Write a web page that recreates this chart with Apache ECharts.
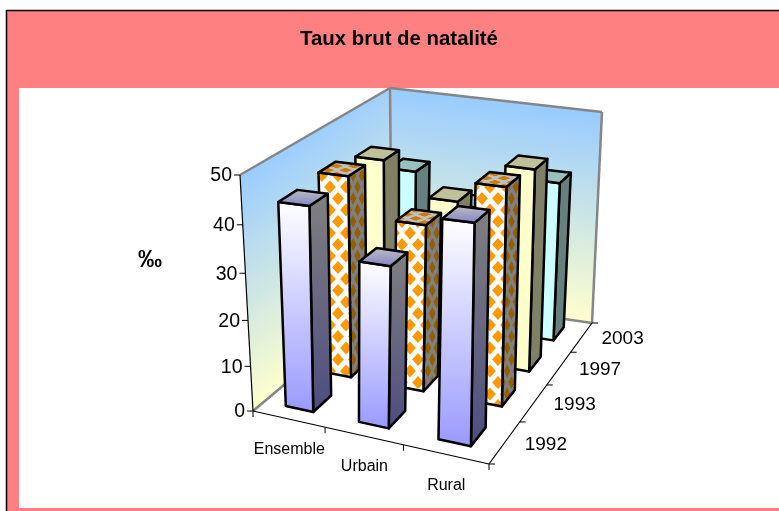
<!DOCTYPE html>
<html><head><meta charset="utf-8">
<style>html,body{margin:0;padding:0;background:#fff}#c{width:779px;height:511px}</style>
<script src="https://cdn.jsdelivr.net/npm/echarts@6/dist/echarts.min.js"></script>
</head><body><div id="c"></div>
<script>
const categories = ['Ensemble','Urbain','Rural'];
const years = ['1992','1993','1997','2003'];
const values1992 = [43.8,34,44.7];
const values1993 = [44.6,36.5,46.4];
const values1997 = [43,36,45];
const values2003 = [35.5,29,37];
const valueTicks = [0,10,20,30,40,50];
const titleText = 'Taux brut de natalité';
const unitText = '‰';

const FLOOR = [[253,411],[489,464],[592,323],[392,294]];
const TOP   = [[240,175],[492,205],[602,112],[390,88]];
const PERSP = 1.07;
const BW = 0.385, BD = 0.46;

function homography(q){
  const [[x0,y0],[x1,y1],[x2,y2],[x3,y3]] = q;
  const dx1=x1-x2,dx2=x3-x2,dy1=y1-y2,dy2=y3-y2,sx=x0-x1+x2-x3,sy=y0-y1+y2-y3;
  const den=dx1*dy2-dx2*dy1;
  const g=(sx*dy2-dx2*sy)/den,h=(dx1*sy-sx*dy1)/den;
  const a=x1-x0+g*x1,b=x3-x0+h*x3,d=y1-y0+g*y1,e=y3-y0+h*y3;
  return (u,v)=>{const w=g*u+h*v+1;return [(a*u+b*v+x0)/w,(d*u+e*v+y0)/w];};
}
const hF=homography(FLOOR), hT=homography(TOP);
function proj(u,v,w){
  const p=hF(u,v),t=hT(u,v),f=w/(w+(1-w)*PERSP);
  return [p[0]+(t[0]-p[0])*f,p[1]+(t[1]-p[1])*f];
}
function makePattern(bg,fg,sx,sy){
  const W=16,H=23,c=document.createElement('canvas');c.width=W;c.height=H;
  const x=c.getContext('2d');
  x.fillStyle=bg;x.fillRect(0,0,W,H);
  x.fillStyle=fg;
  x.filter='blur(0.6px)';
  const dia=(cx,cy)=>{const rx=5.9,ry=6.6;x.beginPath();x.moveTo(cx,cy-ry);x.lineTo(cx+rx,cy);x.lineTo(cx,cy+ry);x.lineTo(cx-rx,cy);x.closePath();x.fill();};
  [[10,3],[2,14.5]].forEach(p=>{[-W,0,W].forEach(ox=>[-H,0,H].forEach(oy=>dia(p[0]+ox,p[1]+oy)));});
  return {image:c,repeat:'repeat',scaleX:sx||1,scaleY:sy||1};
}
const vg=(a,b)=>({type:'linear',x:0,y:0,x2:0,y2:1,colorStops:[{offset:0,color:a},{offset:1,color:b}]});
const STYLES={
 '1992':{front:vg('#ffffff','#9999ff'),side:vg('#808080','#4d4d80'),top:vg('#c0c0c0','#8080c8')},
 '1993':{front:makePattern('#ffffff','#ff9900'),side:makePattern('#808080','#925f00',0.55,1),top:makePattern('#c0c0c0','#cc7a00',1.1,0.35)},
 '1997':{front:'#ffffcc',side:'#808066',top:'#c0c099'},
 '2003':{front:'#ccffff',side:'#668080',top:'#99c0c0'}
};
const poly=(pts,fill,stroke,lw)=>({type:'polygon',shape:{points:pts},style:{fill:fill,stroke:stroke||'none',lineWidth:lw||0,lineJoin:'round'}});
const line=(a,b,col,lw)=>({type:'line',shape:{x1:a[0],y1:a[1],x2:b[0],y2:b[1]},style:{stroke:col,lineWidth:lw}});
const txt=(p,s,size,weight,align)=>({type:'text',style:{x:p[0],y:p[1],text:s,fill:'#000',font:(weight||'normal')+' '+size+'px "Liberation Sans",Arial,sans-serif',align:align||'center',verticalAlign:'middle'}});

function wallGradient(p0,p1,edgeSlope){
  const nx=-edgeSlope,ny=1,len=nx*nx+ny*ny;
  const t=((p1[0]-p0[0])*nx+(p1[1]-p0[1])*ny)/len;
  return {type:'linear',global:true,x:p0[0],y:p0[1],x2:p0[0]+nx*t,y2:p0[1]+ny*t,
    colorStops:[{offset:0,color:'#99ccff'},{offset:1,color:'#ffffcc'}]};
}
const CAT_DX=1,CAT_DY=31,YR_DX=41,YR_DY=2;
const gridLeft=100,gridRight=679,gridTop=100,gridBottom=400;
function frame(params,api){
  const kids=[];
  const A=proj(0,0,0),A2=proj(0,0,1),B=proj(1,0,0),C=proj(1,1,0),C2=proj(1,1,1),D=proj(0,1,0),D2=proj(0,1,1);
  const sl=(A2[1]-D2[1])/(A2[0]-D2[0])*0.5+(A[1]-D[1])/(A[0]-D[0])*0.5;
  const sr=(C2[1]-D2[1])/(C2[0]-D2[0])*0.5+(C[1]-D[1])/(C[0]-D[0])*0.5;
  kids.push(poly([A,A2,D2,D],wallGradient(A2,A,sl)));
  kids.push(poly([D,D2,C2,C],wallGradient(D2,C,sr)));
  const G='#868686';
  kids.push(line(A2,D2,G,2.5),line(D2,C2,G,2.5),line(C2,C,G,2.5),line(D2,D,G,2.5),line(A,D,G,2.5),line(D,C,G,2.5));
  kids.push(line(A,A2,'#000',1.2),line(A,B,'#000',1.2),line(B,C,'#000',1.2));
  valueTicks.forEach(t=>{
    const w=api.coord([0,t])[1];
    const f=(gridBottom-w)/(gridBottom-gridTop);
    const p=proj(0,0,f);
    kids.push(line([p[0]-6,p[1]],p,'#000',1));
    kids.push(txt([p[0]-8,p[1]+1],String(t),19.5,'normal','right'));
  });
  for(let i=0;i<=categories.length;i++){
    const p=proj(i/categories.length,0,0);
    kids.push(line(p,[p[0],p[1]+6],'#000',1));
  }
  categories.forEach((c,i)=>{
    const p=proj((i+0.5)/categories.length,0,0);
    kids.push(txt([p[0]+CAT_DX,p[1]+CAT_DY],c,16));
  });
  for(let i=0;i<=years.length;i++){
    const p=proj(1,i/years.length,0);
    kids.push(line(p,[p[0]+6,p[1]],'#000',1));
  }
  years.forEach((y,i)=>{
    const p=proj(1,(i+0.5)/years.length,0);
    kids.push(txt([p[0]+YR_DX,p[1]+YR_DY],y,19));
  });
  return {type:'group',children:kids};
}
function bar(params,api){
  const cat=api.value(0),val=api.value(1),d=api.value(2);
  const px=api.coord([cat,val]);
  const w=(gridBottom-px[1])/(gridBottom-gridTop);
  const n=categories.length,m=years.length;
  const uc=(cat+0.5)/n,vc=(d+0.5)/m;
  const u0=uc-BW/n/2,u1=uc+BW/n/2,v0=vc-BD/m/2,v1=vc+BD/m/2;
  const f0=proj(u0,v0,0),f1=proj(u1,v0,0),b1=proj(u1,v1,0);
  const t0=proj(u0,v0,w),t1=proj(u1,v0,w),t2=proj(u1,v1,w),t3=proj(u0,v1,w);
  const st=STYLES[years[d]];
  return {type:'group',children:[
    poly([f1,b1,t2,t1],st.side,'#000',2.5),
    poly([f0,f1,t1,t0],st.front,'#000',2.5),
    poly([t0,t1,t2,t3],st.top,'#000',2.5)
  ]};
}
const seriesValues={'1992':values1992,'1993':values1993,'1997':values1997,'2003':values2003};
const barSeries=years.map((y,d)=>d).reverse().map(d=>({
  type:'custom',name:years[d],coordinateSystem:'cartesian2d',renderItem:bar,clip:false,silent:true,
  animation:false,z:10+(years.length-d),
  encode:{x:0,y:1},
  data:seriesValues[years[d]].map((v,i)=>[i,v,d])
}));
const chart=echarts.init(document.getElementById('c'),null,{renderer:'canvas'});
chart.setOption({
  animation:false,
  backgroundColor:'#ffffff',
  graphic:[
    {type:'rect',z:-10,shape:{x:6,y:10,width:773,height:501},style:{fill:'#ff8080'}},
    {type:'rect',z:-9,shape:{x:19,y:88,width:760,height:420},style:{fill:'#ffffff'}},
    {type:'line',z:-8,shape:{x1:6.5,y1:10,x2:6.5,y2:511},style:{stroke:'#000',lineWidth:1.5}},
    {type:'line',z:-8,shape:{x1:6,y1:10.5,x2:779,y2:10.5},style:{stroke:'#000',lineWidth:1.5}}
  ],
  title:{text:titleText,left:394,top:24,textAlign:'center',textStyle:{color:'#000',fontSize:20.4,fontWeight:'bold',fontFamily:'"Liberation Sans",Arial,sans-serif'}},
  grid:{left:gridLeft,top:gridTop,width:gridRight-gridLeft,height:gridBottom-gridTop},
  xAxis:{type:'category',data:categories,show:false},
  yAxis:{type:'value',min:0,max:50,interval:10,show:false},
  series:[
    {type:'custom',name:'frame',coordinateSystem:'cartesian2d',renderItem:frame,clip:false,silent:true,z:5,data:[[0,0]],encode:{x:0,y:1}},
    ...barSeries,
    {type:'custom',name:'unit',coordinateSystem:'cartesian2d',silent:true,z:30,clip:false,data:[[0,0]],encode:{x:0,y:1},
     renderItem:()=>txt([150,260],unitText,24,'bold')}
  ]
});
</script></body></html>
